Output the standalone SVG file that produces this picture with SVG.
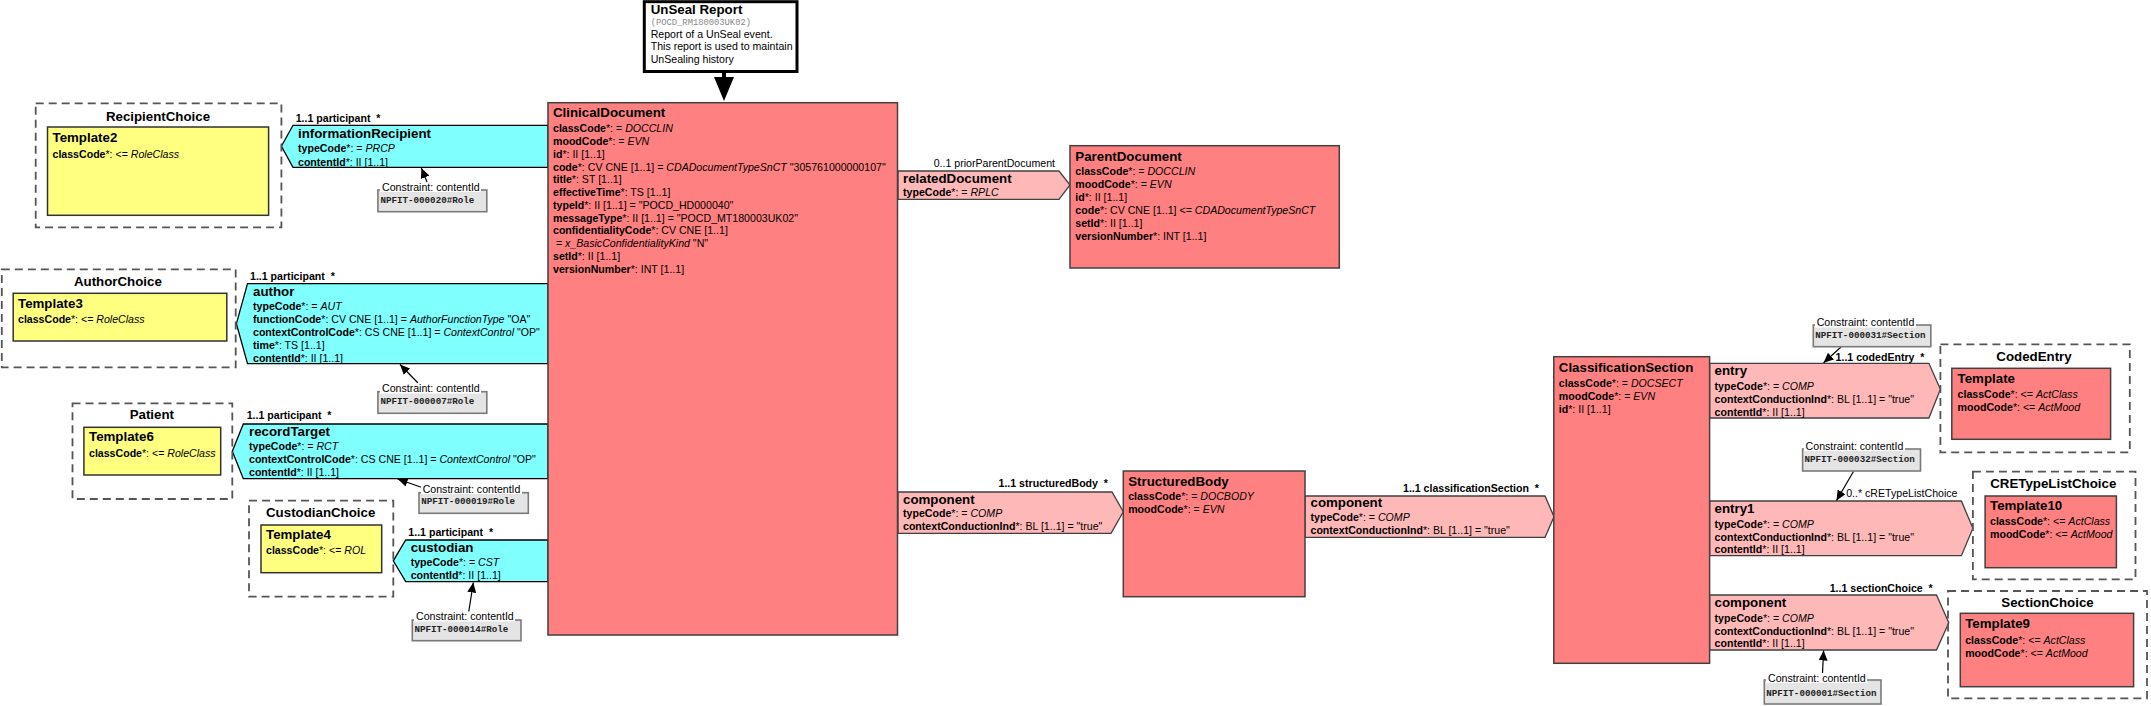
<svg xmlns="http://www.w3.org/2000/svg" width="2151" height="706" viewBox="0 0 2151 706">
<defs>
<style>
text{font-family:"Liberation Sans",Arial,sans-serif;fill:#000}
.ti{font-size:13.3px;font-weight:bold}
.a{font-size:10.6px}
.b{font-weight:bold}
.i{font-style:italic}
.lb{font-size:10.6px;font-weight:bold}
.lr{font-size:10.6px}
.ct{font-size:13.3px;font-weight:bold;text-anchor:middle}
.mono{font-family:"Liberation Mono","Courier New",monospace;font-size:9.2px;font-weight:bold;fill:#222}
.cls{fill:#FF8080;stroke:#404040;stroke-width:1.5}
.yel{fill:#FFFF80;stroke:#333;stroke-width:1.5}
.cyan{fill:#80FFFF;stroke:#000;stroke-width:1.3}
.pink{fill:#FFB8B8;stroke:#404040;stroke-width:1.3}
.dash{fill:none;stroke:#555;stroke-width:1.8;stroke-dasharray:8 5}
.cbox{fill:#E4E4E4;stroke:#7a7a7a;stroke-width:1.6}
.cbg{fill:#fff}
.cl{stroke:#000;stroke-width:1.2;fill:none;marker-end:url(#ah)}
</style>
<marker id="ah" markerUnits="userSpaceOnUse" markerWidth="11" markerHeight="9" refX="10" refY="4.5" orient="auto">
<path d="M0,0 L10,4.5 L0,9 z" fill="#000"/>
</marker>
</defs>
<rect width="2151" height="706" fill="#fff"/>

<g id="connectors">
  <!-- entry point arrow -->
  <g id="entry-arrow">
    <rect x="722" y="71" width="4" height="7" fill="#000"/>
    <polygon points="714,77 734,77 724,101" fill="#000"/>
  </g>

  <g id="assoc-informationRecipient">
    <polygon class="cyan" points="293,125.3 548,125.3 548,167.3 293,167.3 281.4,146.3"/>
    <text x="295.7" y="122" class="lb" xml:space="preserve">1..1 participant  *</text>
    <text x="298" y="138" class="ti">informationRecipient</text>
    <text x="298" y="152.3" class="a"><tspan class="b">typeCode</tspan>*: = <tspan class="i">PRCP</tspan></text>
    <text x="298" y="165.5" class="a"><tspan class="b">contentId</tspan>*: II [1..1]</text>
  </g>

  <g id="assoc-author">
    <polygon class="cyan" points="247.5,283.7 548,283.7 548,363.7 247.5,363.7 236.4,323.7"/>
    <text x="250" y="280.3" class="lb" xml:space="preserve">1..1 participant  *</text>
    <text x="253" y="295.7" class="ti">author</text>
    <text x="253" y="310" class="a"><tspan class="b">typeCode</tspan>*: = <tspan class="i">AUT</tspan></text>
    <text x="253" y="323" class="a"><tspan class="b">functionCode</tspan>*: CV CNE [1..1] = <tspan class="i">AuthorFunctionType</tspan> "OA"</text>
    <text x="253" y="336" class="a"><tspan class="b">contextControlCode</tspan>*: CS CNE [1..1] = <tspan class="i">ContextControl</tspan> "OP"</text>
    <text x="253" y="349" class="a"><tspan class="b">time</tspan>*: TS [1..1]</text>
    <text x="253" y="361.5" class="a"><tspan class="b">contentId</tspan>*: II [1..1]</text>
  </g>

  <g id="assoc-recordTarget">
    <polygon class="cyan" points="243.3,424 548,424 548,478.7 243.3,478.7 232.3,451.3"/>
    <text x="246.7" y="419.3" class="lb" xml:space="preserve">1..1 participant  *</text>
    <text x="249" y="435.7" class="ti">recordTarget</text>
    <text x="249" y="450" class="a"><tspan class="b">typeCode</tspan>*: = <tspan class="i">RCT</tspan></text>
    <text x="249" y="463.2" class="a"><tspan class="b">contextControlCode</tspan>*: CS CNE [1..1] = <tspan class="i">ContextControl</tspan> "OP"</text>
    <text x="249" y="475.5" class="a"><tspan class="b">contentId</tspan>*: II [1..1]</text>
  </g>

  <g id="assoc-custodian">
    <polygon class="cyan" points="405.7,540 548,540 548,581.7 405.7,581.7 393.3,560.8"/>
    <text x="408.3" y="536" class="lb" xml:space="preserve">1..1 participant  *</text>
    <text x="410.7" y="551.7" class="ti">custodian</text>
    <text x="410.7" y="566" class="a"><tspan class="b">typeCode</tspan>*: = <tspan class="i">CST</tspan></text>
    <text x="410.7" y="578.5" class="a"><tspan class="b">contentId</tspan>*: II [1..1]</text>
  </g>

  <g id="assoc-relatedDocument">
    <polygon class="pink" points="898,171 1059,171 1070,185 1059,199.3 898,199.3"/>
    <text x="1055" y="166.7" class="lr" text-anchor="end">0..1 priorParentDocument</text>
    <text x="903" y="182.7" class="ti">relatedDocument</text>
    <text x="903" y="196.3" class="a"><tspan class="b">typeCode</tspan>*: = <tspan class="i">RPLC</tspan></text>
  </g>

  <g id="assoc-structuredBody">
    <polygon class="pink" points="898,492 1112,492 1123.3,511.7 1111,533.3 898,533.3"/>
    <text x="1108" y="487.3" class="lb" text-anchor="end" xml:space="preserve">1..1 structuredBody  *</text>
    <text x="903" y="503.5" class="ti">component</text>
    <text x="903" y="516.5" class="a"><tspan class="b">typeCode</tspan>*: = <tspan class="i">COMP</tspan></text>
    <text x="903" y="529.5" class="a"><tspan class="b">contextConductionInd</tspan>*: BL [1..1] = "true"</text>
  </g>

  <g id="assoc-classificationSection">
    <polygon class="pink" points="1305,496 1545,496 1554,516.7 1545,537.3 1305,537.3"/>
    <text x="1539" y="491.7" class="lb" text-anchor="end" xml:space="preserve">1..1 classificationSection  *</text>
    <text x="1310.5" y="507" class="ti">component</text>
    <text x="1310.5" y="521" class="a"><tspan class="b">typeCode</tspan>*: = <tspan class="i">COMP</tspan></text>
    <text x="1310.5" y="534" class="a"><tspan class="b">contextConductionInd</tspan>*: BL [1..1] = "true"</text>
  </g>

  <g id="assoc-entry">
    <polygon class="pink" points="1709.6,363.3 1928.9,363.3 1940.4,389.3 1928.9,418 1709.6,418"/>
    <text x="1924.5" y="360.7" class="lb" text-anchor="end" xml:space="preserve">1..1 codedEntry  *</text>
    <text x="1714.6" y="375" class="ti">entry</text>
    <text x="1714.6" y="389.7" class="a"><tspan class="b">typeCode</tspan>*: = <tspan class="i">COMP</tspan></text>
    <text x="1714.6" y="402.7" class="a"><tspan class="b">contextConductionInd</tspan>*: BL [1..1] = "true"</text>
    <text x="1714.6" y="415.7" class="a"><tspan class="b">contentId</tspan>*: II [1..1]</text>
  </g>

  <g id="assoc-entry1">
    <polygon class="pink" points="1709.6,501 1961.4,501 1972.9,528.3 1961.4,555.7 1709.6,555.7"/>
    <text x="1957.5" y="496.7" class="lr" text-anchor="end">0..* cRETypeListChoice</text>
    <text x="1714.6" y="513.3" class="ti">entry1</text>
    <text x="1714.6" y="527.5" class="a"><tspan class="b">typeCode</tspan>*: = <tspan class="i">COMP</tspan></text>
    <text x="1714.6" y="540.5" class="a"><tspan class="b">contextConductionInd</tspan>*: BL [1..1] = "true"</text>
    <text x="1714.6" y="553" class="a"><tspan class="b">contentId</tspan>*: II [1..1]</text>
  </g>

  <g id="assoc-sectionChoice">
    <polygon class="pink" points="1709.6,595 1936.5,595 1948.8,622.7 1936.5,650 1709.6,650"/>
    <text x="1932.7" y="591.7" class="lb" text-anchor="end" xml:space="preserve">1..1 sectionChoice  *</text>
    <text x="1714.6" y="607.3" class="ti">component</text>
    <text x="1714.6" y="621.7" class="a"><tspan class="b">typeCode</tspan>*: = <tspan class="i">COMP</tspan></text>
    <text x="1714.6" y="634.7" class="a"><tspan class="b">contextConductionInd</tspan>*: BL [1..1] = "true"</text>
    <text x="1714.6" y="647.3" class="a"><tspan class="b">contentId</tspan>*: II [1..1]</text>
  </g>

  <!-- constraint pointer lines -->
  <line class="cl" x1="427" y1="182" x2="421.4" y2="168"/>
  <line class="cl" x1="418" y1="383" x2="400" y2="364.5"/>
  <line class="cl" x1="422" y1="487.5" x2="397.7" y2="479"/>
  <line class="cl" x1="468.7" y1="612" x2="473.3" y2="582.5"/>
  <line class="cl" x1="1841" y1="347" x2="1823.6" y2="362.8"/>
  <line class="cl" x1="1853.5" y1="471.5" x2="1836.5" y2="500.5"/>
  <line class="cl" x1="1822.5" y1="673" x2="1823.6" y2="650.5"/>
</g>

<g id="UnSealReport">
  <rect x="644.3" y="1.7" width="152.7" height="69.8" fill="#fff" stroke="#000" stroke-width="3"/>
  <text x="650.7" y="13.5" class="ti">UnSeal Report</text>
  <text x="650.7" y="25" style="font-family:'Liberation Mono',monospace;font-size:8.8px;fill:#888">(POCD_RM180003UK02)</text>
  <text x="650.7" y="37.5" class="lr">Report of a UnSeal event.</text>
  <text x="650.7" y="50.2" class="lr">This report is used to maintain</text>
  <text x="650.7" y="62.9" class="lr">UnSealing history</text>
</g>

<g id="ClinicalDocument">
  <rect class="cls" x="548" y="102.7" width="349.5" height="532.3"/>
  <text x="553" y="117.3" class="ti">ClinicalDocument</text>
  <text x="553" y="132.3" class="a"><tspan class="b">classCode</tspan>*: = <tspan class="i">DOCCLIN</tspan></text>
  <text x="553" y="145.1" class="a"><tspan class="b">moodCode</tspan>*: = <tspan class="i">EVN</tspan></text>
  <text x="553" y="157.8" class="a"><tspan class="b">id</tspan>*: II [1..1]</text>
  <text x="553" y="170.6" class="a"><tspan class="b">code</tspan>*: CV CNE [1..1] = <tspan class="i">CDADocumentTypeSnCT</tspan> "305761000000107"</text>
  <text x="553" y="183.4" class="a"><tspan class="b">title</tspan>*: ST [1..1]</text>
  <text x="553" y="196.1" class="a"><tspan class="b">effectiveTime</tspan>*: TS [1..1]</text>
  <text x="553" y="208.9" class="a"><tspan class="b">typeId</tspan>*: II [1..1] = "POCD_HD000040"</text>
  <text x="553" y="221.7" class="a"><tspan class="b">messageType</tspan>*: II [1..1] = "POCD_MT180003UK02"</text>
  <text x="553" y="234.4" class="a"><tspan class="b">confidentialityCode</tspan>*: CV CNE [1..1]</text>
  <text x="553" y="247.2" class="a" xml:space="preserve"> = <tspan class="i">x_BasicConfidentialityKind</tspan> "N"</text>
  <text x="553" y="260" class="a"><tspan class="b">setId</tspan>*: II [1..1]</text>
  <text x="553" y="272.7" class="a"><tspan class="b">versionNumber</tspan>*: INT [1..1]</text>
</g>

<g id="ParentDocument">
  <rect class="cls" x="1070" y="145.7" width="269.3" height="122.3"/>
  <text x="1075.3" y="160.5" class="ti">ParentDocument</text>
  <text x="1075.3" y="175.3" class="a"><tspan class="b">classCode</tspan>*: = <tspan class="i">DOCCLIN</tspan></text>
  <text x="1075.3" y="188.2" class="a"><tspan class="b">moodCode</tspan>*: = <tspan class="i">EVN</tspan></text>
  <text x="1075.3" y="201.1" class="a"><tspan class="b">id</tspan>*: II [1..1]</text>
  <text x="1075.3" y="214" class="a"><tspan class="b">code</tspan>*: CV CNE [1..1] &lt;= <tspan class="i">CDADocumentTypeSnCT</tspan></text>
  <text x="1075.3" y="226.9" class="a"><tspan class="b">setId</tspan>*: II [1..1]</text>
  <text x="1075.3" y="239.8" class="a"><tspan class="b">versionNumber</tspan>*: INT [1..1]</text>
</g>

<g id="StructuredBody">
  <rect class="cls" x="1123.3" y="471" width="181.7" height="125.7"/>
  <text x="1128.2" y="485.7" class="ti">StructuredBody</text>
  <text x="1128.2" y="500" class="a"><tspan class="b">classCode</tspan>*: = <tspan class="i">DOCBODY</tspan></text>
  <text x="1128.2" y="513.3" class="a"><tspan class="b">moodCode</tspan>*: = <tspan class="i">EVN</tspan></text>
</g>

<g id="ClassificationSection">
  <rect class="cls" x="1553.8" y="356.7" width="155.8" height="306.6"/>
  <text x="1558.8" y="371.7" class="ti">ClassificationSection</text>
  <text x="1558.8" y="386.7" class="a"><tspan class="b">classCode</tspan>*: = <tspan class="i">DOCSECT</tspan></text>
  <text x="1558.8" y="399.7" class="a"><tspan class="b">moodCode</tspan>*: = <tspan class="i">EVN</tspan></text>
  <text x="1558.8" y="412.7" class="a"><tspan class="b">id</tspan>*: II [1..1]</text>
</g>

<g id="RecipientChoice">
  <rect class="dash" x="35.7" y="103.3" width="245.7" height="124"/>
  <text x="158" y="120.7" class="ct">RecipientChoice</text>
  <g id="Template2">
    <rect class="yel" x="47.5" y="127" width="221.1" height="88.3"/>
    <text x="52.5" y="141.7" class="ti">Template2</text>
    <text x="52.5" y="157.5" class="a"><tspan class="b">classCode</tspan>*: &lt;= <tspan class="i">RoleClass</tspan></text>
  </g>
</g>

<g id="AuthorChoice">
  <rect class="dash" x="1.8" y="269.3" width="233.9" height="98"/>
  <text x="117.9" y="286" class="ct">AuthorChoice</text>
  <g id="Template3">
    <rect class="yel" x="13.2" y="293.3" width="213.6" height="47.7"/>
    <text x="18" y="307.7" class="ti">Template3</text>
    <text x="18" y="323.3" class="a"><tspan class="b">classCode</tspan>*: &lt;= <tspan class="i">RoleClass</tspan></text>
  </g>
</g>

<g id="Patient">
  <rect class="dash" x="72.5" y="403.3" width="159.8" height="95.7"/>
  <text x="151.8" y="419.3" class="ct">Patient</text>
  <g id="Template6">
    <rect class="yel" x="83.9" y="427.3" width="136.8" height="47.7"/>
    <text x="89" y="441.3" class="ti">Template6</text>
    <text x="89" y="456.7" class="a"><tspan class="b">classCode</tspan>*: &lt;= <tspan class="i">RoleClass</tspan></text>
  </g>
</g>

<g id="CustodianChoice">
  <rect class="dash" x="249" y="500.7" width="144.3" height="96"/>
  <text x="320.7" y="517.3" class="ct">CustodianChoice</text>
  <g id="Template4">
    <rect class="yel" x="261" y="525" width="120.7" height="47.7"/>
    <text x="266" y="539.3" class="ti">Template4</text>
    <text x="266" y="554.3" class="a"><tspan class="b">classCode</tspan>*: &lt;= <tspan class="i">ROL</tspan></text>
  </g>
</g>

<g id="CodedEntry">
  <rect class="dash" x="1940.4" y="344.3" width="189.4" height="108"/>
  <text x="2034" y="360.7" class="ct">CodedEntry</text>
  <g id="Template">
    <rect class="cls" x="1951.8" y="368.3" width="158.8" height="71"/>
    <text x="1957.6" y="382.7" class="ti">Template</text>
    <text x="1957.6" y="397.7" class="a"><tspan class="b">classCode</tspan>*: &lt;= <tspan class="i">ActClass</tspan></text>
    <text x="1957.6" y="410.7" class="a"><tspan class="b">moodCode</tspan>*: &lt;= <tspan class="i">ActMood</tspan></text>
  </g>
</g>

<g id="CRETypeListChoice">
  <rect class="dash" x="1972.9" y="471.7" width="162.6" height="107.6"/>
  <text x="2053.3" y="487.7" class="ct">CRETypeListChoice</text>
  <g id="Template10">
    <rect class="cls" x="1985.1" y="496" width="131.3" height="71.7"/>
    <text x="1990" y="510" class="ti">Template10</text>
    <text x="1990" y="525" class="a"><tspan class="b">classCode</tspan>*: &lt;= <tspan class="i">ActClass</tspan></text>
    <text x="1990" y="538.3" class="a"><tspan class="b">moodCode</tspan>*: &lt;= <tspan class="i">ActMood</tspan></text>
  </g>
</g>

<g id="SectionChoice">
  <rect class="dash" x="1948" y="591" width="199" height="107.3"/>
  <text x="2047.5" y="607.3" class="ct">SectionChoice</text>
  <g id="Template9">
    <rect class="cls" x="1960.3" y="613.3" width="173.3" height="73.4"/>
    <text x="1965.2" y="628" class="ti">Template9</text>
    <text x="1965.2" y="643.5" class="a"><tspan class="b">classCode</tspan>*: &lt;= <tspan class="i">ActClass</tspan></text>
    <text x="1965.2" y="656.5" class="a"><tspan class="b">moodCode</tspan>*: &lt;= <tspan class="i">ActMood</tspan></text>
  </g>
</g>

<g id="constraint-000020">
  <rect class="cbox" x="377.9" y="190" width="108.9" height="21.7"/>
  <rect class="cbg" x="380" y="182" width="101" height="10"/>
  <text x="382" y="190.7" class="lr">Constraint: contentId</text>
  <text x="380.5" y="202.7" class="mono">NPFIT-000020#Role</text>
</g>
<g id="constraint-000007">
  <rect class="cbox" x="377.9" y="391.7" width="108.9" height="21.6"/>
  <rect class="cbg" x="380" y="383.5" width="101" height="10"/>
  <text x="382" y="392.2" class="lr">Constraint: contentId</text>
  <text x="380.5" y="404.3" class="mono">NPFIT-000007#Role</text>
</g>
<g id="constraint-000019">
  <rect class="cbox" x="419" y="492.7" width="109.3" height="20.6"/>
  <rect class="cbg" x="421" y="484" width="101" height="10"/>
  <text x="422.7" y="492.5" class="lr">Constraint: contentId</text>
  <text x="421.3" y="504.4" class="mono">NPFIT-000019#Role</text>
</g>
<g id="constraint-000014">
  <rect class="cbox" x="412.3" y="620" width="108.7" height="20.7"/>
  <rect class="cbg" x="414" y="611.5" width="101" height="10"/>
  <text x="416" y="620.2" class="lr">Constraint: contentId</text>
  <text x="414.5" y="632.3" class="mono">NPFIT-000014#Role</text>
</g>
<g id="constraint-000031">
  <rect class="cbox" x="1813.3" y="325" width="117.5" height="21.7"/>
  <rect class="cbg" x="1815" y="317.5" width="101" height="10"/>
  <text x="1816.7" y="326.2" class="lr">Constraint: contentId</text>
  <text x="1815.3" y="337.5" class="mono">NPFIT-000031#Section</text>
</g>
<g id="constraint-000032">
  <rect class="cbox" x="1802.6" y="449" width="117.9" height="22"/>
  <rect class="cbg" x="1804" y="441" width="101" height="10"/>
  <text x="1805.6" y="449.5" class="lr">Constraint: contentId</text>
  <text x="1804.5" y="462.3" class="mono">NPFIT-000032#Section</text>
</g>
<g id="constraint-000001">
  <rect class="cbox" x="1764.3" y="680" width="116.7" height="24"/>
  <rect class="cbg" x="1766" y="673" width="101" height="10"/>
  <text x="1768" y="681.7" class="lr">Constraint: contentId</text>
  <text x="1766.3" y="695.7" class="mono">NPFIT-000001#Section</text>
</g>
</svg>
